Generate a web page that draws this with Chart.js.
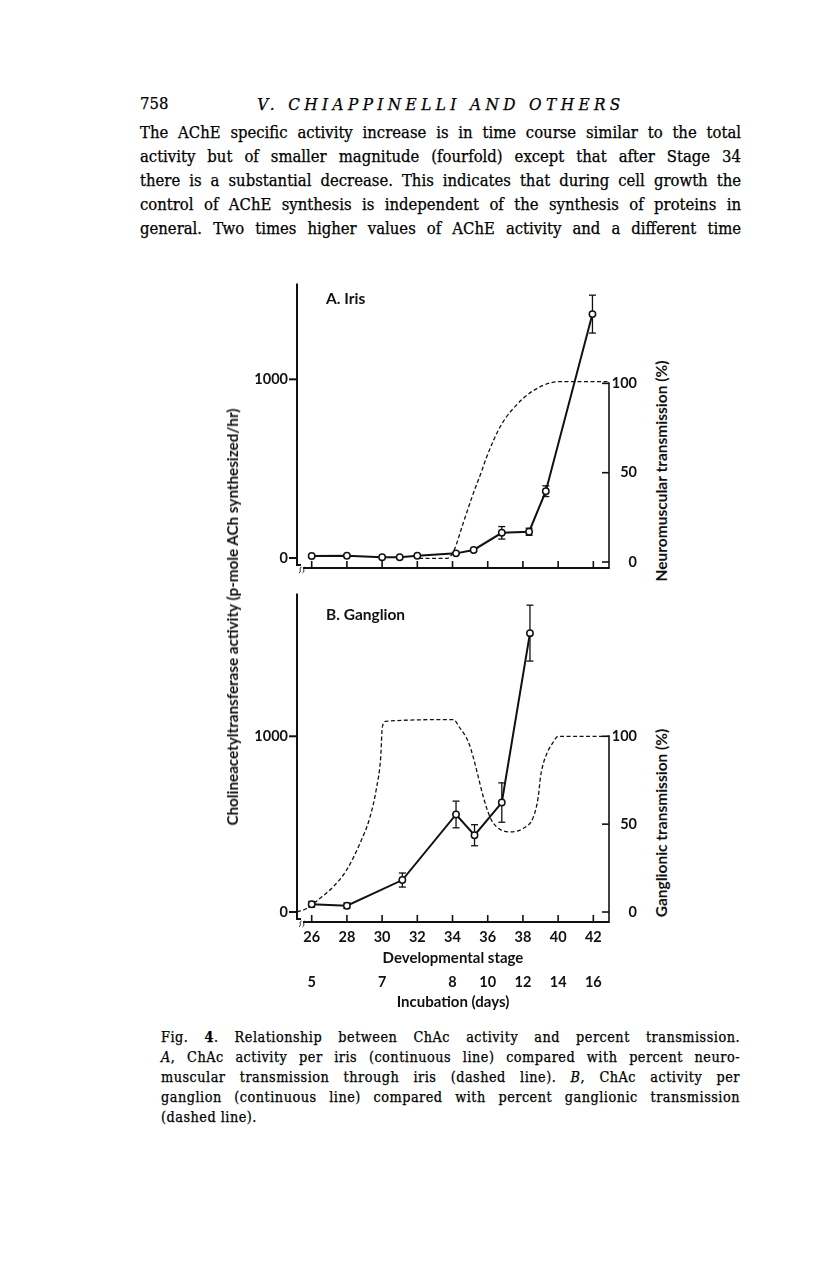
<!DOCTYPE html>
<html>
<head>
<meta charset="utf-8">
<script src="https://cdn.jsdelivr.net/npm/chart.js@4.4.1/dist/chart.umd.min.js"></script>
<style>
  html, body { margin: 0; padding: 0; background: #fff; }
  #page { position: relative; width: 816px; height: 1264px; overflow: hidden; background: #fff; color: #111; }
  .serif { font-family: "DejaVu Serif Condensed", "DejaVu Serif", serif; font-stretch: condensed; color: #000; -webkit-text-stroke: 0.25px #000; }
  .abs { position: absolute; }
  #pnum { left: 140px; top: 92px; font-size: 16.5px; line-height: 24px; }
  #runhead { left: 441px; top: 92px; transform: translateX(-50%); font-size: 17px; line-height: 24px; font-style: italic; letter-spacing: 4.4px; white-space: nowrap; }
  #bodytext { left: 140px; top: 121px; width: 601px; font-size: 16.5px; line-height: 24px; }
  #bodytext div, #caption div.j { text-align: justify; text-align-last: justify; }
  #caption { left: 161px; top: 1027px; width: 579px; font-size: 14.3px; line-height: 20px; letter-spacing: 0.5px; }
  .sans { font-family: Lato, "Open Sans", sans-serif; font-weight: 700; color: #111; }
  .rot { position: absolute; white-space: nowrap; transform: translate(-50%, -50%) rotate(-90deg); font-size: 15.2px; }
  .rot.r { font-size: 15.5px; }
  .plabel { position: absolute; font-size: 15.5px; line-height: 18px; white-space: nowrap; }
  canvas { position: absolute; }
</style>
</head>
<body>
<div id="page">
  <div id="pnum" class="abs serif">758</div>
  <div id="runhead" class="abs serif">V. CHIAPPINELLI AND OTHERS</div>
  <div id="bodytext" class="abs serif">
    <div>The AChE specific activity increase is in time course similar to the total</div>
    <div>activity but of smaller magnitude (fourfold) except that after Stage 34</div>
    <div>there is a substantial decrease. This indicates that during cell growth the</div>
    <div>control of AChE synthesis is independent of the synthesis of proteins in</div>
    <div>general. Two times higher values of AChE activity and a different time</div>
  </div>

  <canvas id="chartA" width="422" height="300" style="left:220px; top:278px;"></canvas>
  <canvas id="chartB" width="422" height="424" style="left:220px; top:588px;"></canvas>

  <div class="plabel sans" style="left:326px; top:289px;">A. Iris</div>
  <div class="plabel sans" style="left:326px; top:605px;">B. Ganglion</div>

  <div class="rot sans" style="left:232px; top:617px;">Cholineacetyltransferase activity (p-mole ACh synthesized/hr)</div>
  <div class="rot r sans" style="left:661px; top:471px;">Neuromuscular transmission (%)</div>
  <div class="rot r sans" style="left:661px; top:823px;">Ganglionic transmission (%)</div>

  <div id="caption" class="abs serif">
    <div class="j">Fig. <b>4</b>. Relationship between ChAc activity and percent transmission.</div>
    <div class="j"><i>A</i>, ChAc activity per iris (continuous line) compared with percent neuro-</div>
    <div class="j">muscular transmission through iris (dashed line). <i>B</i>, ChAc activity per</div>
    <div class="j">ganglion (continuous line) compared with percent ganglionic transmission</div>
    <div>(dashed line).</div>
  </div>
</div>

<script>
// ---------------- data ----------------
const stageTicks = [26, 28, 30, 32, 34, 36, 38, 40, 42];
const incubationStages = [26, 30, 34, 36, 38, 40, 42];
const incubationDays = ['5', '7', '8', '10', '12', '14', '16'];
const chacTicks = [0, 1000];
const pctTicks = [0, 50, 100];

// A. Iris – ChAc activity (continuous line)
const irisStage = [26.0, 28.0, 30.0, 31.0, 32.0, 34.2, 35.2, 36.8, 38.35, 39.3, 41.95];
const irisChAc  = [11, 13, 4, 4, 13, 26, 45, 141, 147, 374, 1365];
const irisErr   = [0, 0, 0, 0, 0, 0, 0, 35, 20, 30, 106];

// A. Iris – neuromuscular transmission % (dashed line)
const irisTransStage = [32.1, 33.67, 34.05, 34.6, 35.18, 35.66, 35.94, 36.7, 37.45, 38.6, 40.1, 42.89];
const irisTrans      = [2, 2, 5.8, 21.6, 38.4, 51, 58.8, 75.6, 85.9, 96, 101, 101];

// B. Ganglion – ChAc activity (continuous line)
const gangStage = [26.0, 28.0, 31.15, 34.2, 35.25, 36.8, 38.4];
const gangChAc  = [44, 36, 182, 555, 437, 623, 1587];
const gangErr   = [16, 16, 40, 76, 60, 112, 159];

// B. Ganglion – ganglionic transmission % (dashed line)
const gangTransStage = [25.17, 25.72, 26.47, 27.23, 27.99, 28.74, 29.31, 29.69, 29.92, 30.01, 30.2,
                        34.05, 34.4, 34.9, 35.18, 35.46, 35.75, 36.13, 36.5, 37.27, 38.0,
                        38.59, 38.87, 39.0, 39.16, 39.44, 39.73, 40.0, 42.85];
const gangTrans      = [0, 2, 7.8, 14.4, 24, 39, 54, 71, 88, 105, 108.5,
                        109.5, 105, 96.8, 88, 77, 65.5, 54, 48.5, 45.6, 47.5,
                        54, 65.5, 77, 84.5, 92, 96.8, 100, 100];

// ---------------- helpers ----------------
const pts = (xs, ys) => xs.map((x, i) => ({ x: x, y: ys[i] }));
const INK = '#111';
const tickFont = { family: 'Lato', size: 14.5, weight: 'bold' };
const titleFont = { family: 'Lato', size: 15, weight: 'bold' };

function seg(ctx, x1, y1, x2, y2) { ctx.beginPath(); ctx.moveTo(x1, y1); ctx.lineTo(x2, y2); ctx.stroke(); }
function fixV(w) { return s => { s.width = w; s.paddingTop = 0; s.paddingBottom = 0; }; }
function fixH(h) { return s => { s.height = h; s.paddingLeft = 0; s.paddingRight = 0; }; }

const framePlugin = {
  id: 'frame',
  beforeDatasetsDraw(chart) {
    const { ctx, scales } = chart;
    const ds = chart.data.datasets[0];
    const err = ds.errors || [];
    ctx.save();
    ctx.strokeStyle = INK; ctx.lineWidth = 1.3;
    ds.data.forEach((p, i) => {
      const e = err[i]; if (!e) return;
      const px = scales.x.getPixelForValue(p.x);
      const t = scales.y.getPixelForValue(p.y + e);
      const b = scales.y.getPixelForValue(p.y - e);
      seg(ctx, px, t, px, b);
      seg(ctx, px - 3.5, t, px + 3.5, t);
      seg(ctx, px - 3.5, b, px + 3.5, b);
    });
    ctx.restore();
  },
  afterDraw(chart) {
    const { ctx, chartArea: a, scales } = chart;
    ctx.save();
    ctx.strokeStyle = INK; ctx.lineCap = 'butt';
    // left axis
    ctx.lineWidth = 2;
    seg(ctx, a.left, a.top, a.left, a.bottom - 3);
    seg(ctx, a.left - 1, a.bottom - 3, a.left + 4, a.bottom - 3);
    chacTicks.forEach(v => { const y = scales.y.getPixelForValue(v); seg(ctx, a.left - 8, y, a.left, y); });
    // bottom axis
    seg(ctx, a.left + 6, a.bottom, a.right, a.bottom);
    ctx.lineWidth = 1.6;
    stageTicks.forEach(s => { const x = scales.x.getPixelForValue(s); seg(ctx, x, a.bottom, x, a.bottom - 7); });
    // axis break marks
    ctx.lineWidth = 1;
    for (let k = 0; k < 2; k++) {
      const x0 = a.left + 2 + k * 3.5, y0 = a.bottom - 1;
      ctx.beginPath();
      ctx.moveTo(x0 + 2.5, y0);
      ctx.bezierCurveTo(x0 - 0.5, y0 + 1, x0 + 3, y0 + 4, x0, y0 + 6);
      ctx.stroke();
    }
    // right axis
    ctx.lineWidth = 1.6;
    const top100 = scales.y2.getPixelForValue(100);
    seg(ctx, a.right, top100 - 1, a.right, a.bottom + 1);
    pctTicks.forEach(v => { const y = scales.y2.getPixelForValue(v); seg(ctx, a.right - 7, y, a.right, y); });
    ctx.restore();
  }
};

function makeChart(id, cfg) {
  const xScales = {
    x: {
      type: 'linear', position: 'bottom', min: 25.165, max: 42.89,
      afterBuildTicks: s => { s.ticks = stageTicks.map(v => ({ value: v })); },
      afterFit: fixH(cfg.xHeight),
      grid: { display: false, drawTicks: false }, border: { display: false },
      ticks: { display: cfg.showX, font: tickFont, color: INK, padding: 7, maxRotation: 0, autoSkip: false,
               callback: v => String(v) },
      title: { display: cfg.showX, text: 'Developmental stage', color: INK,
               font: titleFont, padding: { top: 0, bottom: 1 } }
    }
  };
  if (cfg.showX) {
    xScales.x2 = {
      type: 'linear', position: 'bottom', min: 25.165, max: 42.89,
      afterBuildTicks: s => { s.ticks = incubationStages.map(v => ({ value: v })); },
      afterFit: fixH(44),
      grid: { display: false, drawTicks: false }, border: { display: false },
      ticks: { font: tickFont, color: INK, padding: 6, maxRotation: 0, autoSkip: false,
               callback: (v, i) => incubationDays[i] },
      title: { display: true, text: 'Incubation (days)', color: INK,
               font: titleFont, padding: { top: 0, bottom: 1 } }
    };
  }
  return new Chart(document.getElementById(id), {
    type: 'line',
    data: {
      datasets: [
        { data: pts(cfg.stage, cfg.chac), errors: cfg.err, yAxisID: 'y', xAxisID: 'x',
          borderColor: INK, borderWidth: 2, tension: 0,
          pointRadius: 3.2, pointBorderWidth: 1.5, pointBackgroundColor: '#fff', pointBorderColor: INK },
        { data: pts(cfg.tStage, cfg.trans), yAxisID: 'y2', xAxisID: 'x',
          borderColor: INK, borderWidth: 1.3, borderDash: [4, 2.5], pointRadius: 0,
          cubicInterpolationMode: 'monotone' }
      ]
    },
    options: {
      responsive: false, animation: false, devicePixelRatio: 1,
      layout: { padding: { top: 5, left: 0, right: 5, bottom: 0 } },
      plugins: { legend: { display: false }, tooltip: { enabled: false } },
      scales: Object.assign(xScales, {
        y: {
          position: 'left', min: cfg.yMin, max: cfg.yMax,
          afterBuildTicks: s => { s.ticks = chacTicks.map(v => ({ value: v })); },
          afterFit: fixV(77),
          grid: { display: false, drawTicks: false }, border: { display: false },
          ticks: { font: tickFont, color: INK, padding: 9, callback: v => String(v) }
        },
        y2: {
          position: 'right', min: cfg.y2Min, max: cfg.y2Max,
          afterBuildTicks: s => { s.ticks = pctTicks.map(v => ({ value: v })); },
          afterFit: fixV(28),
          grid: { display: false, drawTicks: false }, border: { display: false },
          ticks: { font: tickFont, color: INK, crossAlign: 'far', padding: 4, callback: v => String(v) }
        }
      })
    },
    plugins: [framePlugin]
  });
}

makeChart('chartA', {
  stage: irisStage, chac: irisChAc, err: irisErr, tStage: irisTransStage, trans: irisTrans,
  yMin: -55.9, yMax: 1536.3, y2Min: -3.35, y2Max: 155.9, showX: false, xHeight: 10
});
makeChart('chartB', {
  stage: gangStage, chac: gangChAc, err: gangErr, tStage: gangTransStage, trans: gangTrans,
  yMin: -56.8, yMax: 1812.5, y2Min: -5.68, y2Max: 181.25, showX: true, xHeight: 46
});
</script>
</body>
</html>
